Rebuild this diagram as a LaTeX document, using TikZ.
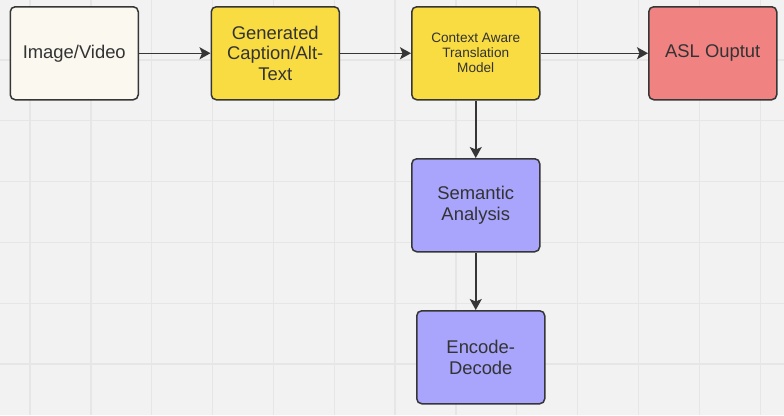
\documentclass[tikz,border=0pt]{standalone}
\usepackage{fontspec}
\setmainfont{Liberation Sans}
\usetikzlibrary{arrows.meta}
\definecolor{bg}{HTML}{F2F2F2}
\definecolor{gridc}{HTML}{E6E6E6}
\definecolor{edge}{HTML}{363636}
\definecolor{txt}{HTML}{333333}
\definecolor{cream}{HTML}{FBF8F0}
\definecolor{yel}{HTML}{F8DC42}
\definecolor{coral}{HTML}{F08282}
\definecolor{purp}{HTML}{A9A4FC}
\tikzset{
  box/.style={draw=edge, line width=1.5pt, rounded corners=5pt, minimum width=128pt, minimum height=93pt, inner sep=0pt, anchor=north west, align=center, text=txt, font=\fontsize{18.4}{20.5}\selectfont},
  conn/.style={draw=edge, line width=1.5pt, -{Stealth[length=11pt,width=12pt,inset=2.5pt]}}
}
\begin{document}
\begin{tikzpicture}[x=1pt,y=-1pt]
\useasboundingbox (0,0) rectangle (784,415);
\fill[bg] (0,0) rectangle (784,415);
\foreach \i in {0,...,12} {\draw[gridc, line width=1.3pt] ({30+60.85*\i},0) -- ({30+60.85*\i},415);}
\foreach \j in {0,...,6} {\draw[gridc, line width=1.3pt] (0,{-0.8+60.8*\j}) -- (784,{-0.8+60.8*\j});}
\node[box, fill=cream] (img) at (9.5,6) {Image/Video};
\node[box, fill=yel] (cap) at (210.5,6) {Generated\\Caption/Alt-\\Text};
\node[box, fill=yel, font=\fontsize{13.6}{15}\selectfont] (ctx) at (411,6) {Context Aware\\Translation\\Model};
\node[box, fill=coral] (asl) at (648,6) {ASL Ouptut};
\node[box, fill=purp] (sem) at (411,158) {Semantic\\Analysis};
\node[box, fill=purp] (enc) at (416,310) {Encode-\\Decode};
\draw[conn] (img) -- (cap);
\draw[conn] (cap) -- (ctx);
\draw[conn] (ctx) -- (asl);
\draw[conn] (ctx) -- (sem);
\draw[conn] (sem.south) -- (sem.south |- enc.north);
\end{tikzpicture}
\end{document}
